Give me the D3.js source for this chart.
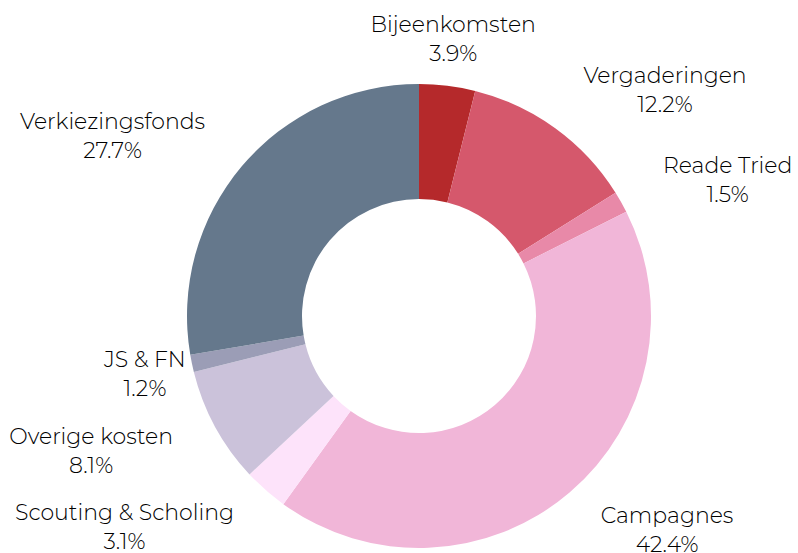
<!DOCTYPE html>
<html>
<head>
<meta charset="utf-8">
<script src="https://cdn.jsdelivr.net/npm/d3@7"></script>
<style>
  body { margin: 0; background: #fff; }
  text { font-family: Montserrat, "Open Sans", sans-serif; font-weight: 300; fill: #000; }
</style>
</head>
<body>
<div id="chart"></div>
<script>
const labels = ["Bijeenkomsten", "Vergaderingen", "Reade Tried", "Campagnes",
    "Scouting & Scholing", "Overige kosten", "JS & FN", "Verkiezingsfonds"];
const values = [3.9, 12.2, 1.5, 42.4, 3.1, 8.1, 1.2, 27.7];
const colors = ["#b5292b", "#d5586c", "#e889a8", "#f1b6d8",
    "#fde3fa", "#cbc2da", "#9b9db6", "#65788c"];
// how each label block hangs off its anchor point
const anchors = ["middle", "start", "start", "start", "end", "end", "middle", "end"];

const width = 798, height = 553;
const cx = 419, cy = 316;
const outerR = 232, innerR = 117, labelR = 280;

const data = labels.map((l, i) => ({ label: l, value: values[i], color: colors[i], anchor: anchors[i] }));

const svg = d3.select("#chart").append("svg")
    .attr("width", width)
    .attr("height", height)
  .append("g")
    .attr("transform", `translate(${cx},${cy})`);

const pie = d3.pie()
    .sort(null)
    .value(d => d.value);

const arc = d3.arc()
    .innerRadius(innerR)
    .outerRadius(outerR);

const labelArc = d3.arc()
    .innerRadius(labelR)
    .outerRadius(labelR);

const arcs = pie(data);

svg.selectAll("path")
    .data(arcs)
  .enter().append("path")
    .attr("d", arc)
    .style("fill", d => d.data.color);

const lbl = svg.selectAll("text.lbl")
    .data(arcs)
  .enter().append("text")
    .attr("class", "lbl")
    .style("text-anchor", "middle")
    .style("font-size", "22px");

lbl.append("tspan")
    .attr("x", 0)
    .attr("y", -6)
    .text(d => d.data.label);

lbl.append("tspan")
    .attr("x", 0)
    .attr("y", 23)
    .text(d => d3.format(".1f")(d.data.value) + "%");

// lines are centred inside the block, the block is anchored at the point
lbl.attr("transform", function(d) {
    const [x, y] = labelArc.centroid(d);
    const w = this.getBBox().width;
    const dx = d.data.anchor === "start" ? w / 2 : d.data.anchor === "end" ? -w / 2 : 0;
    return `translate(${x + dx},${y})`;
});
</script>
</body>
</html>
